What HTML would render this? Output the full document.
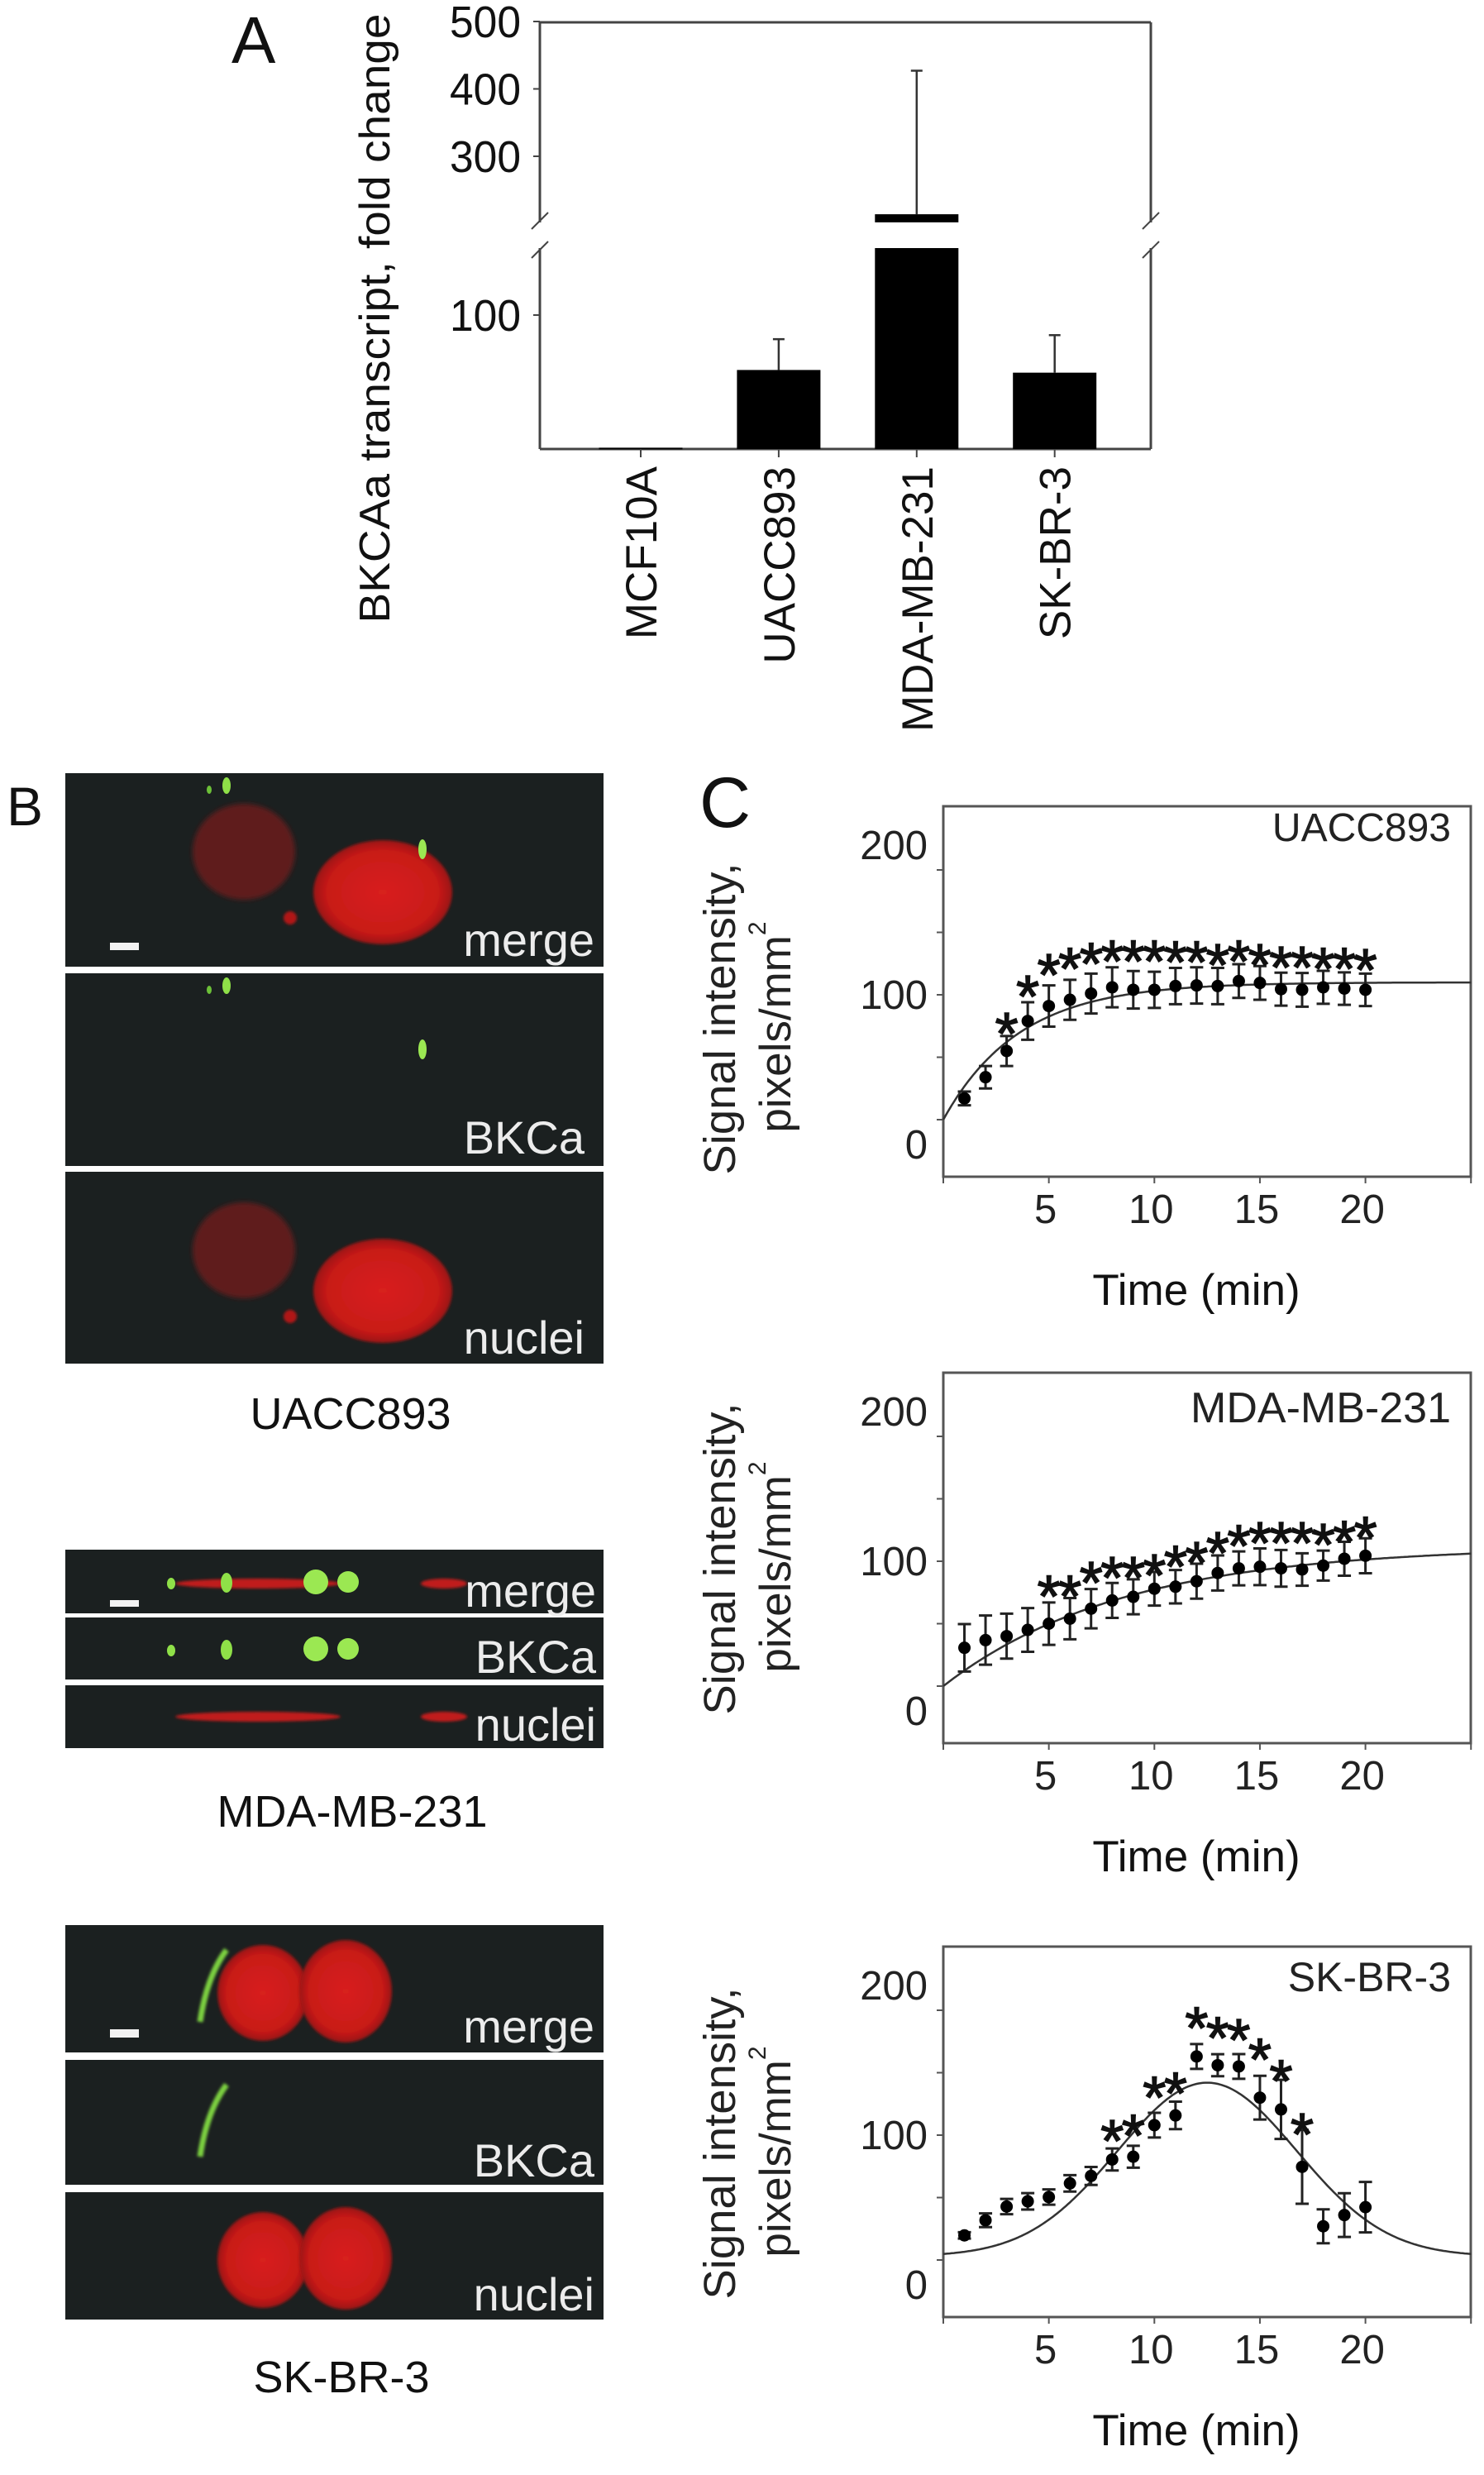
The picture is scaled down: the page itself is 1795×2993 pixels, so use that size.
<!DOCTYPE html>
<html><head><meta charset="utf-8"><title>BKCa figure</title>
<style>
html,body{margin:0;padding:0;background:#fff;}
svg{display:block;font-family:"Liberation Sans",Arial,sans-serif;}
</style></head>
<body>
<svg id="fig" width="1795" height="2993" viewBox="0 0 1795 2993" xmlns="http://www.w3.org/2000/svg">
<defs>
  <filter id="blur3" x="-20%" y="-20%" width="140%" height="140%"><feGaussianBlur stdDeviation="3"/></filter>
  <filter id="blur1" x="-20%" y="-20%" width="140%" height="140%"><feGaussianBlur stdDeviation="1.5"/></filter>
  <radialGradient id="nucRed" cx="50%" cy="50%" r="50%"><stop offset="0" stop-color="#d8201e"/><stop offset="0.8" stop-color="#c81a18"/><stop offset="1" stop-color="#9a1412"/></radialGradient>
</defs>

<text x="280" y="76" font-size="80" fill="#111">A</text>
<text x="8" y="998" font-size="66" fill="#111">B</text>
<text x="846" y="1000" font-size="86" fill="#111">C</text>

<g id="panelA"></g>

<g id="panelB">
  <g>
    <rect x="79" y="935" width="651" height="234" fill="#1b2020"/>
    <ellipse cx="295" cy="1030" rx="62" ry="58" fill="#5e1a1a" filter="url(#blur3)"/>
    <ellipse cx="463" cy="1079" rx="84" ry="63" fill="url(#nucRed)" filter="url(#blur1)"/>
    <circle cx="351" cy="1110" r="8" fill="#b01818" filter="url(#blur1)"/>
    <ellipse cx="274" cy="950" rx="5" ry="10" fill="#8fe048"/>
    <ellipse cx="253" cy="955" rx="3" ry="5" fill="#6cc038"/>
    <ellipse cx="511" cy="1027" rx="5" ry="12" fill="#9be852"/>
    <rect x="133" y="1140" width="35" height="9" fill="#f2f2f2"/>
    <text x="719" y="1156" font-size="56" fill="#ececec" text-anchor="end">merge</text>
  </g>
  <g>
    <rect x="79" y="1177" width="651" height="233" fill="#1b2020"/>
    <ellipse cx="274" cy="1192" rx="5" ry="10" fill="#8fe048"/>
    <ellipse cx="253" cy="1197" rx="3" ry="5" fill="#6cc038"/>
    <ellipse cx="511" cy="1269" rx="5" ry="12" fill="#9be852"/>
    <text x="707" y="1395" font-size="56" fill="#ececec" text-anchor="end">BKCa</text>
  </g>
  <g>
    <rect x="79" y="1417" width="651" height="232" fill="#1b2020"/>
    <ellipse cx="295" cy="1512" rx="62" ry="58" fill="#5e1a1a" filter="url(#blur3)"/>
    <ellipse cx="463" cy="1561" rx="84" ry="63" fill="url(#nucRed)" filter="url(#blur1)"/>
    <circle cx="351" cy="1592" r="8" fill="#b01818" filter="url(#blur1)"/>
    <text x="707" y="1637" font-size="56" fill="#ececec" text-anchor="end">nuclei</text>
  </g>
  <text x="424" y="1728" font-size="54" fill="#111" text-anchor="middle">UACC893</text>

  <g>
    <rect x="79" y="1874" width="651" height="77" fill="#1b2020"/>
    <ellipse cx="312" cy="1915" rx="100" ry="6" fill="#c01a1a" filter="url(#blur1)"/>
    <ellipse cx="537" cy="1915" rx="28" ry="6" fill="#c01a1a" filter="url(#blur1)"/>
    <ellipse cx="207" cy="1915" rx="5" ry="7" fill="#8fe048"/>
    <ellipse cx="274" cy="1914" rx="7" ry="12" fill="#8fe048"/>
    <ellipse cx="382" cy="1913" rx="15" ry="15" fill="#9be852"/>
    <ellipse cx="421" cy="1913" rx="13" ry="13" fill="#9be852"/>
    <rect x="133" y="1935" width="35" height="8" fill="#f2f2f2"/>
    <text x="721" y="1943" font-size="56" fill="#ececec" text-anchor="end">merge</text>
  </g>
  <g>
    <rect x="79" y="1956" width="651" height="75" fill="#1b2020"/>
    <ellipse cx="207" cy="1996" rx="5" ry="7" fill="#8fe048"/>
    <ellipse cx="274" cy="1995" rx="7" ry="12" fill="#8fe048"/>
    <ellipse cx="382" cy="1994" rx="15" ry="15" fill="#9be852"/>
    <ellipse cx="421" cy="1994" rx="13" ry="13" fill="#9be852"/>
    <text x="721" y="2023" font-size="56" fill="#ececec" text-anchor="end">BKCa</text>
  </g>
  <g>
    <rect x="79" y="2038" width="651" height="76" fill="#1b2020"/>
    <ellipse cx="312" cy="2076" rx="100" ry="6" fill="#c01a1a" filter="url(#blur1)"/>
    <ellipse cx="537" cy="2076" rx="28" ry="6" fill="#c01a1a" filter="url(#blur1)"/>
    <text x="721" y="2105" font-size="56" fill="#ececec" text-anchor="end">nuclei</text>
  </g>
  <text x="426" y="2209" font-size="54" fill="#111" text-anchor="middle">MDA-MB-231</text>

  <g>
    <rect x="79" y="2328" width="651" height="154" fill="#1b2020"/>
    <ellipse cx="318" cy="2410" rx="55" ry="58" fill="url(#nucRed)" filter="url(#blur1)"/>
    <ellipse cx="418" cy="2408" rx="56" ry="62" fill="url(#nucRed)" filter="url(#blur1)"/>
    <path d="M242 2445 Q250 2390 274 2358" stroke="#7cd040" stroke-width="7" fill="none" filter="url(#blur1)"/>
    <rect x="133" y="2454" width="35" height="10" fill="#f2f2f2"/>
    <text x="719" y="2470" font-size="56" fill="#ececec" text-anchor="end">merge</text>
  </g>
  <g>
    <rect x="79" y="2491" width="651" height="151" fill="#1b2020"/>
    <path d="M242 2608 Q250 2553 274 2521" stroke="#7cd040" stroke-width="7" fill="none" filter="url(#blur1)"/>
    <text x="719" y="2632" font-size="56" fill="#ececec" text-anchor="end">BKCa</text>
  </g>
  <g>
    <rect x="79" y="2651" width="651" height="154" fill="#1b2020"/>
    <ellipse cx="318" cy="2733" rx="55" ry="58" fill="url(#nucRed)" filter="url(#blur1)"/>
    <ellipse cx="418" cy="2731" rx="56" ry="62" fill="url(#nucRed)" filter="url(#blur1)"/>
    <text x="719" y="2794" font-size="56" fill="#ececec" text-anchor="end">nuclei</text>
  </g>
  <text x="413" y="2893" font-size="54" fill="#111" text-anchor="middle">SK-BR-3</text>
</g>

<g id="panelC"></g>
</svg>

<script>
// ---------- Panel A data ----------
const aCategories = ["MCF10A", "UACC893", "MDA-MB-231", "SK-BR-3"];
const aValues = [1, 59, 214, 57];
const aErrors = [0, 23, 213, 28];
const aTicksUpper = [300, 400, 500];
const aTicksLower = [100];

// ---------- Panel C data ----------
const cTimes = [1,2,3,4,5,6,7,8,9,10,11,12,13,14,15,16,17,18,19,20];
const cYTicks = [0, 100, 200];
const cXTicks = [5, 10, 15, 20];
const uaccMeans = [17,34,55,79,91,96,101,106,104,104,107,107.5,107,111,109.5,104.5,104,106,105,104];
const uaccErrs = [5.5,9,12,15,16.5,16,16,16,15,14.5,14.5,14.5,14.5,13.5,13.5,13.2,13.5,13.2,13,13];
const uaccStarTimes = [3,4,5,6,7,8,9,10,11,12,13,14,15,16,17,18,19,20];
const uaccStarLevels = [80,110,127,132,136,138,138,138,137.5,137.5,135,138,135,133,133,132,132,131];
const uaccFit = [110, 3.6];
const mdaMeans = [30.7,36.8,40,45,50,54,62,68.6,71.5,78,79.6,84,90.6,94.3,95.6,94.3,93.4,96.5,102,104.4];
const mdaErrs = [19,19.7,18,17.5,17,16.5,15.7,14,14,13.5,13.4,14,14,13.6,14.7,14.7,13,12,13.6,14];
const mdaStarTimes = [5,6,7,8,9,10,11,12,13,14,15,16,17,18,19,20];
const mdaStarLevels = [83,83,94,98,98,100,107,110,118,123.5,125.7,125.7,125.7,124.6,126.8,130];
const mdaFit = [112, 8.5];
const skMeans = [19.7,31.8,42.8,47,50.4,61.4,67.3,80.5,82.7,108,115.8,163,156,155,130,120.6,74.6,27,36,42.3];
const skErrs = [2.6,5.5,6.1,6.6,6.1,6.6,7.2,8.8,8.8,9.9,11,9.9,8.8,9.9,17.5,23.7,29.6,13.6,17.5,20.2];
const skStarTimes = [8,9,10,11,12,13,14,15,16,17];
const skStarLevels = [106.6,111,141.4,144.7,197,189,187.5,172,154.6,111.8];
const skFit = [139, 12.5, 4.25, 3];

const NS = "http://www.w3.org/2000/svg";
function mk(tag, attrs, parent, text) {
  const el = document.createElementNS(NS, tag);
  for (const k in attrs) el.setAttribute(k, attrs[k]);
  if (text !== undefined) el.textContent = text;
  parent.appendChild(el);
  return el;
}

(function () {
  const g = document.getElementById("panelA");
  const L = 653, R = 1392, T = 27, B = 543;
  const gapTop = 269, gapBot = 300;
  const lowMax = 150, upMin = 202;
  const yLow = v => B - Math.min(v, lowMax) * 1.62;
  const yUp = v => 189 + (300 - v) * 0.815;
  const xC = i => 775 + i * 166.9;
  const barW = 101;
  const ax = {stroke: "#444", "stroke-width": 3, fill: "none"};

  let e;
  e = mk("line", Object.assign({x1: L, y1: T, x2: R, y2: T}, ax), g);
  
  
  e = mk("line", Object.assign({x1: L, y1: B, x2: R, y2: B}, ax), g);
  
  
  [L, R].forEach((x, k) => {
    const a1 = mk("line", Object.assign({x1: x, y1: T, x2: x, y2: gapTop}, ax), g);
    
    
    const a2 = mk("line", Object.assign({x1: x, y1: gapBot, x2: x, y2: B}, ax), g);
    
    
    const b1 = mk("line", {x1: x - 10, y1: gapTop + 8, x2: x + 10, y2: gapTop - 12, stroke: "#444", "stroke-width": 2}, g);
    
    
    const b2 = mk("line", {x1: x - 10, y1: gapBot + 12, x2: x + 10, y2: gapBot - 8, stroke: "#444", "stroke-width": 2}, g);
    
    
  });
  const tick = (v, y) => {
    const t = mk("line", {x1: L - 8, y1: y, x2: L, y2: y, stroke: "#444", "stroke-width": 2}, g);
    
    
    const lb = mk("text", {x: 630, y: y + 19, "font-size": 54, "text-anchor": "end", fill: "#111", textLength: 86, lengthAdjust: "spacingAndGlyphs"}, g, String(v));
    
    
  };
  aTicksUpper.forEach(v => tick(v, yUp(v)));
  aTicksLower.forEach(v => tick(v, yLow(v)));

  const yt = mk("text", {x: 0, y: 0, "font-size": 52, "text-anchor": "middle", fill: "#111", textLength: 737, lengthAdjust: "spacingAndGlyphs", transform: "translate(471,385) rotate(-90)"}, g, "BKCAa transcript, fold change");
  
  

  aCategories.forEach((c, i) => {
    const x = xC(i), v = aValues[i], er = aErrors[i];
    const r = mk("rect", {x: x - barW / 2, y: yLow(v), width: barW, height: Math.max(B - yLow(v), 2), fill: "#000"}, g);
    
    
    let topY = yLow(v + er);
    if (v > upMin) {
      const r2 = mk("rect", {x: x - barW / 2, y: yUp(v), width: barW, height: yUp(upMin) - yUp(v), fill: "#000"}, g);
      
      
      topY = yUp(v + er);
    }
    if (er > 0) {
      const baseY = v > upMin ? yUp(v) : yLow(v);
      const el = mk("line", {x1: x, y1: baseY, x2: x, y2: topY, stroke: "#333", "stroke-width": 2.5}, g);
      
      
      const cap = mk("line", {x1: x - 7, y1: topY, x2: x + 7, y2: topY, stroke: "#333", "stroke-width": 2.5}, g);
      
      
    }
    const tk = mk("line", {x1: x, y1: B, x2: x, y2: B + 10, stroke: "#444", "stroke-width": 2}, g);
    
    
    const lb = mk("text", {x: 0, y: 0, "font-size": 53, "text-anchor": "end", fill: "#111", transform: "translate(" + (x + 19) + ",564) rotate(-90)"}, g, c);
    
    
  });
})();

function drawTimeChart(cfg) {
  const g = mk("g", {}, document.getElementById("panelC"));
  
  
  const L = 1141, R = 1779, T = cfg.top, B = cfg.top + 448;
  const y0 = cfg.top + 379, k = 1.51;
  const x = t => L + t * 25.53;
  const y = v => y0 - v * k;

  const box = mk("rect", {x: L, y: T, width: R - L, height: B - T, fill: "none", stroke: "#555", "stroke-width": 3}, g);
  
  
  for (let v = 0; v <= 200; v += 50) {
    const t = mk("line", {x1: L - 8, y1: y(v), x2: L, y2: y(v), stroke: "#555", "stroke-width": 2}, g);
    
    
  }
  cYTicks.forEach(v => {
    const lb = mk("text", {x: 1122, y: y(v) + (100 - v) * 0.3 + 17, "font-size": 49, "text-anchor": "end", fill: "#222"}, g, String(v));
    
    
  });
  [0].concat(cXTicks, [25]).forEach(t => {
    const tk = mk("line", {x1: x(t), y1: B, x2: x(t), y2: B + 8, stroke: "#555", "stroke-width": 2}, g);
    
    
  });
  cXTicks.forEach(t => {
    const lb = mk("text", {x: x(t) - 4, y: B + 56, "font-size": 49, "text-anchor": "middle", fill: "#222"}, g, String(t));
    
    
  });
  const xt = mk("text", {x: 1447, y: B + 155, "font-size": 53, "text-anchor": "middle", fill: "#111"}, g, "Time (min)");
  
  
  const t1 = mk("text", {x: 0, y: 0, "font-size": 54, "text-anchor": "middle", fill: "#222", textLength: 377, lengthAdjust: "spacingAndGlyphs", transform: "translate(889," + cfg.titleY + ") rotate(-90)"}, g, "Signal intensity,");
  
  
  const t2 = mk("text", {x: 0, y: 0, "font-size": 53, "text-anchor": "middle", fill: "#222", transform: "translate(956," + (cfg.titleY + 10) + ") rotate(-90)"}, g, "pixels/mm");
  const sup = mk("tspan", {"font-size": 30, dy: -30}, t2, "2");
  
  
  
  
  const nm = mk("text", {x: 1755, y: T + cfg.labelDy, "font-size": cfg.labelSize, "text-anchor": "end", fill: "#222"}, g, cfg.label);
  
  

  let d = "";
  for (let i = 0; i <= 250; i++) {
    const t = i / 10;
    d += (i ? "L" : "M") + x(t).toFixed(1) + " " + y(cfg.fit(t)).toFixed(1);
  }
  const cv = mk("path", {d: d, fill: "none", stroke: "#333", "stroke-width": 2.5}, g);
  
  

  cTimes.forEach((t, i) => {
    const m = cfg.means[i], e = cfg.errs[i];
    const eb = mk("path", {d: "M" + x(t) + " " + y(m - e) + "V" + y(m + e) + "M" + (x(t) - 8) + " " + y(m - e) + "h16M" + (x(t) - 8) + " " + y(m + e) + "h16", stroke: "#222", "stroke-width": 3, fill: "none"}, g);
    
    
    const p = mk("circle", {cx: x(t), cy: y(m), r: 7.5, fill: "#000"}, g);
    
    
  });
  cfg.starTimes.forEach((t, i) => {
    const s = mk("text", {x: x(t), y: y(cfg.starLevels[i]) + 42, "font-size": 72, "text-anchor": "middle", fill: "#111", stroke: "#111", "stroke-width": 1.5}, g, "*");
    
    
  });
}

drawTimeChart({name: "uacc893-time-course", top: 975, titleY: 1232, label: "UACC893", labelSize: 48, labelDy: 42,
  means: uaccMeans, errs: uaccErrs, starTimes: uaccStarTimes, starLevels: uaccStarLevels,
  fit: t => uaccFit[0] * (1 - Math.exp(-t / uaccFit[1]))});
drawTimeChart({name: "mda-mb-231-time-course", top: 1660, titleY: 1885, label: "MDA-MB-231", labelSize: 52, labelDy: 60,
  means: mdaMeans, errs: mdaErrs, starTimes: mdaStarTimes, starLevels: mdaStarLevels,
  fit: t => mdaFit[0] * (1 - Math.exp(-t / mdaFit[1]))});
drawTimeChart({name: "sk-br-3-time-course", top: 2354, titleY: 2592, label: "SK-BR-3", labelSize: 50, labelDy: 54,
  means: skMeans, errs: skErrs, starTimes: skStarTimes, starLevels: skStarLevels,
  fit: t => skFit[3] + skFit[0] * Math.exp(-Math.pow(t - skFit[1], 2) / (2 * skFit[2] * skFit[2]))});
</script>
</body></html>
